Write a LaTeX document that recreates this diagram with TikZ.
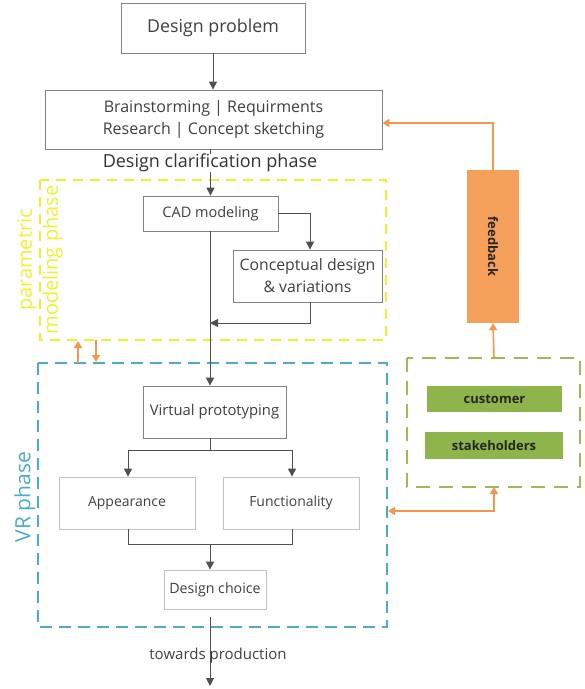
\documentclass[tikz,border=0pt]{standalone}
\usepackage{fontspec}
\setmainfont{Open Sans}
\usetikzlibrary{arrows.meta}
\definecolor{txt}{RGB}{64,64,64}
\definecolor{boxline}{RGB}{130,130,130}
\definecolor{lightline}{RGB}{195,195,195}
\definecolor{arrowgray}{RGB}{80,80,80}
\definecolor{oran}{RGB}{244,160,90}
\definecolor{oranline}{RGB}{242,150,80}
\definecolor{yel}{RGB}{240,240,50}
\definecolor{cya}{RGB}{75,172,198}
\definecolor{grn}{RGB}{155,187,89}
\definecolor{grnfill}{RGB}{141,181,75}
\begin{document}
\begin{tikzpicture}[x=1pt,y=-1pt,
  box/.style={draw=boxline,line width=0.8pt,fill=white,text=txt,inner sep=0pt,align=center},
  lbox/.style={box,draw=lightline},
  flow/.style={draw=arrowgray,line width=1pt,-{Triangle[length=8pt,width=8pt]}},
  fline/.style={draw=arrowgray,line width=1pt},
  oarrow/.style={draw=oranline,line width=1.6pt,-{Triangle[length=7pt,width=8pt]}},
  yelbox/.style={draw=yel,line width=2pt,dash pattern=on 10pt off 7pt},
  cyabox/.style={draw=cya,line width=1.8pt,dash pattern=on 12pt off 7pt},
  grnbox/.style={draw=grn,line width=2pt,dash pattern=on 14pt off 9pt},
  gtag/.style={fill=grnfill,text=black!85,font=\fontsize{13}{15}\selectfont\bfseries,inner sep=0pt}
]
\useasboundingbox (0,0) rectangle (585,689);

% dashed phase regions
\draw[yelbox] (40,180) rectangle (386,340);
\draw[cyabox] (38,363) rectangle (387,627);
\draw[grnbox] (407,358) rectangle (580,487);

% main nodes
\node[box,minimum width=184pt,minimum height=50pt,font=\fontsize{17.8}{20}\selectfont] (dp) at (213,28) {Design problem};
\node[box,minimum width=337pt,minimum height=59pt,font=\fontsize{16}{22}\selectfont] (bs) at (213.5,119.5) {Brainstorming | Requirments\\Research | Concept sketching};
\node[text=black!80,font=\fontsize{18}{20}\selectfont,inner sep=0pt] (dcp) at (210,163) {Design clarification phase};
\node[box,minimum width=135pt,minimum height=35pt,font=\fontsize{14.5}{18}\selectfont] (cad) at (210.5,213.5) {CAD modeling};
\node[box,minimum width=149pt,minimum height=52pt,font=\fontsize{15.8}{22}\selectfont] (cv) at (307.5,276) {Conceptual design\\\& variations};
\node[box,minimum width=143pt,minimum height=52pt,font=\fontsize{14.8}{17}\selectfont] (vp) at (214.5,412) {Virtual prototyping};
\node[lbox,minimum width=136pt,minimum height=52pt,font=\fontsize{14}{17}\selectfont] (ap) at (127,503) {Appearance};
\node[lbox,minimum width=136pt,minimum height=52pt,font=\fontsize{14}{17}\selectfont] (fu) at (291,503) {Functionality};
\node[lbox,minimum width=102pt,minimum height=39pt,font=\fontsize{14.2}{16}\selectfont] (dc) at (215,589.5) {Design choice};
\node[text=txt,font=\fontsize{15}{17}\selectfont,inner sep=0pt] (tp) at (218,656) {towards production};
\coordinate (dcout) at (210,617);
\coordinate (prod) at (210,686);

% phase labels
\node[text=yel,rotate=90,align=center,font=\fontsize{20}{26}\selectfont,inner sep=0pt] (pm) at (40,260) {parametric\\modeling phase};
\node[text=cya,rotate=90,font=\fontsize{21}{24}\selectfont,inner sep=0pt] (vr) at (25,497) {VR phase};

% feedback side
\node[fill=oran,minimum width=52pt,minimum height=153pt,inner sep=0pt] (fb) at (493,246.5) {};
\node[rotate=-90,font=\fontsize{13}{15}\selectfont\bfseries,text=black!85,inner sep=0pt] (fbt) at (fb.center) {feedback};
\node[gtag,minimum width=135pt,minimum height=26pt] (cu) at (494.5,399) {customer};
\node[gtag,minimum width=138pt,minimum height=27pt] (st) at (494,445.5) {stakeholders};

% main flow
\draw[flow] (dp.south) -- (bs.north -| dp.south);
\draw[fline] (bs.south -| cad.north) -- (dcp.north -| cad.north);
\draw[flow] (dcp.south -| cad.north) -- (cad.north);
\draw[flow] (cad.east) -| (cv.north -| 310,0);
\draw[flow] (cv.south -| 310,0) |- (210,323);
\draw[flow] (cad.south -| 210,0) -- (vp.north -| 210,0);
\draw[fline] (vp.south -| 210,0) -- (210,450);
\draw[flow] (210,450) -| (ap.north -| 128,0);
\draw[flow] (210,450) -| (fu.north -| 292,0);
\draw[fline] (ap.south -| 128,0) |- (292,544) -- (fu.south -| 292,0);
\draw[flow] (210,544) -- (dc.north -| 210,0);
\draw[flow] (dcout) -- (prod);

% orange feedback connectors
\draw[oarrow] (fb.north) |- (bs.east |- 0,123);
\draw[oarrow] (494,358) -- (fb.south);
\draw[oranline,line width=1.6pt,{Triangle[length=7pt,width=8pt]}-{Triangle[length=7pt,width=8pt]}] (388,511) -| (494,487);
\draw[oarrow] (78,363) -- (78,341);
\draw[oarrow] (96,340) -- (96,362);
\end{tikzpicture}
\end{document}
